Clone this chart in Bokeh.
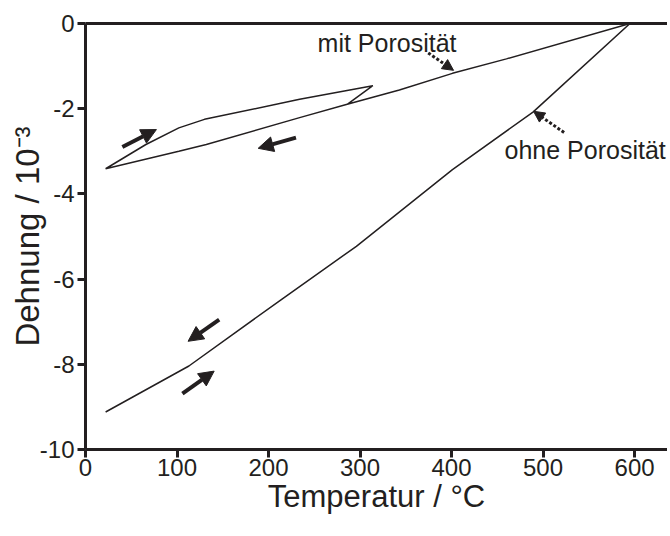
import math
from bokeh.plotting import figure
from bokeh.models import (Arrow, NormalHead, Label, LinearAxis, FixedTicker,
                          ColumnDataSource, Range1d)
from bokeh.embed import file_html
from bokeh.resources import INLINE

# ---- data ----
x_ticks = [0, 100, 200, 300, 400, 500, 600]
x_tick_labels = ["0", "100", "200", "300", "400", "500", "600"]
y_ticks = [0, -2, -4, -6, -8, -10]
y_tick_labels = ["0", "-2", "-4", "-6", "-8", "-10"]

# curve "ohne Porosität"
T_ohne = [22, 113, 214, 296, 401, 489, 595]
D_ohne = [-9.12, -8.04, -6.48, -5.23, -3.43, -2.08, 0.0]

# curve "mit Porosität" (cooling branch, then heating loop back to junction)
T_mit = [595, 460, 401, 343, 285, 234, 132, 102, 22, 66, 102, 130, 234, 314, 286]
D_mit = [0.0, -0.83, -1.17, -1.56, -1.90, -2.21, -2.84, -3.00, -3.41,
         -2.84, -2.45, -2.25, -1.78, -1.46, -1.90]

# solid direction arrows (start -> end)
arr_x0 = [40.3, 230.0, 146.1, 105.9]
arr_y0 = [-2.90, -2.68, -6.95, -8.69]
arr_x1 = [77.5, 188.7, 112.1, 140.6]
arr_y1 = [-2.49, -2.93, -7.46, -8.16]

# dotted pointer arrows
dot_x0 = [374.5, 523.0]
dot_y0 = [-0.69, -2.56]
dot_x1 = [402.2, 489.6]
dot_y1 = [-1.10, -2.06]

# annotation texts
ann_text = ["mit Porosität", "ohne Porosität"]
ann_x = [405.4, 457.9]
ann_y = [-0.45, -2.96]
ann_align = ["right", "left"]

x_title = "Temperatur / °C"
y_title = "Dehnung / 10\u207b\u00b3"

INK = "#231f20"
FONT = "Liberation Sans"

p = figure(frame_width=582, frame_height=426,
           x_range=Range1d(0, 636), y_range=Range1d(-10, 0),
           output_backend="svg", toolbar_location=None,
           min_border_left=85, min_border_top=23, min_border_right=0,
           min_border_bottom=10)
p.outline_line_color = None
p.xgrid.visible = False
p.ygrid.visible = False
p.background_fill_color = "white"
p.border_fill_color = "white"

for ax in (p.xaxis[0], p.yaxis[0]):
    ax.axis_line_width = 3
    ax.axis_line_color = INK
    ax.major_tick_line_width = 3
    ax.major_tick_line_color = INK
    ax.major_tick_out = 8
    ax.major_tick_in = 0
    ax.minor_tick_line_color = None
    ax.major_label_text_font = FONT
    ax.major_label_text_font_size = "24px"
    ax.major_label_text_color = INK
    ax.axis_label_text_font = FONT
    ax.axis_label_text_font_style = "normal"
    ax.axis_label_text_color = INK

p.xaxis.ticker = FixedTicker(ticks=x_ticks)
p.yaxis.ticker = FixedTicker(ticks=y_ticks)
p.xaxis.major_label_overrides = {t: s for t, s in zip(x_ticks, x_tick_labels)}
p.yaxis.major_label_overrides = {t: s for t, s in zip(y_ticks, y_tick_labels)}
p.xaxis.major_label_standoff = 1
p.yaxis.major_label_standoff = 3
p.xaxis.axis_label = x_title
p.xaxis.axis_label_text_font_size = "31px"
p.xaxis.axis_label_standoff = 0
p.yaxis.axis_label = y_title
p.yaxis.axis_label_text_font_size = "33px"
p.yaxis.axis_label_standoff = -9

top = LinearAxis(ticker=FixedTicker(ticks=[]), axis_line_width=3,
                 axis_line_color=INK, major_tick_line_color=None,
                 minor_tick_line_color=None, major_label_text_font_size="0px")
p.add_layout(top, "above")

p.line(T_ohne, D_ohne, line_color=INK, line_width=1.5)
p.line(T_mit, D_mit, line_color=INK, line_width=1.5)

src_a = ColumnDataSource(dict(x0=arr_x0, y0=arr_y0, x1=arr_x1, y1=arr_y1))
p.add_layout(Arrow(source=src_a, x_start="x0", y_start="y0", x_end="x1", y_end="y1",
                   line_width=4, line_color=INK,
                   end=NormalHead(size=15, fill_color=INK, line_color=INK, line_width=1)))

src_d = ColumnDataSource(dict(x0=dot_x0, y0=dot_y0, x1=dot_x1, y1=dot_y1))
p.add_layout(Arrow(source=src_d, x_start="x0", y_start="y0", x_end="x1", y_end="y1",
                   line_width=3, line_color=INK, line_dash="3 2",
                   end=NormalHead(size=11, fill_color=INK, line_color=INK, line_width=1)))

for t, x, y, a in zip(ann_text, ann_x, ann_y, ann_align):
    p.add_layout(Label(x=x, y=y, text=t, text_align=a, text_baseline="alphabetic",
                       text_font=FONT, text_font_size="25px", text_color=INK))

open("out.html", "w").write(file_html(p, INLINE))
